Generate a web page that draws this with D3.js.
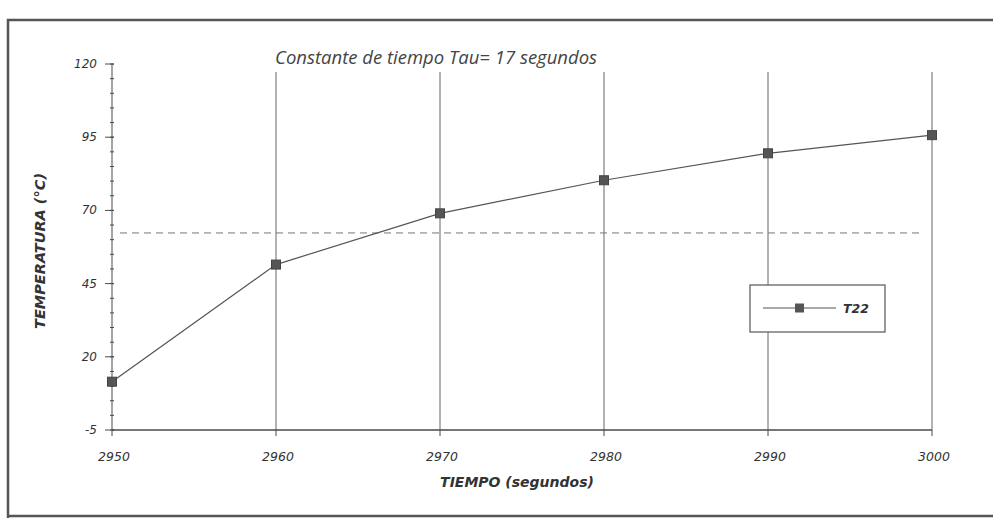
<!DOCTYPE html>
<html><head><meta charset="utf-8">
<script src="https://cdn.jsdelivr.net/npm/d3@7"></script>
<style>body{margin:0;background:#fff}svg{display:block}</style>
</head><body>
<svg id="c" width="993" height="518"></svg>
<script>
const times = [2950, 2960, 2970, 2980, 2990, 3000];
const temps = [11.5, 51.5, 69, 80.3, 89.5, 95.7];
const yTicks = [-5, 20, 45, 70, 95, 120];
const xTicks = [2950, 2960, 2970, 2980, 2990, 3000];
const refLevel = [62.3];
const seriesName = "T22";
const title = "Constante de tiempo Tau= 17 segundos";

const svg = d3.select("#c");
const x = d3.scaleLinear().domain([2950, 3000]).range([112, 932]);
const y = d3.scaleLinear().domain([-5, 120]).range([430, 64]);
const ink = "#4a4a4a";
const lab = "DejaVu Sans, Verdana, sans-serif";

// frame
svg.append("path").attr("d","M8,518 L8,20 L993,20").attr("fill","none").attr("stroke","#555").attr("stroke-width",2.5);
svg.append("line").attr("x1",8).attr("x2",993).attr("y1",516).attr("y2",516).attr("stroke","#555").attr("stroke-width",2.5);

// vertical gridlines
svg.append("g").selectAll("line").data(xTicks.slice(1)).join("line")
  .attr("x1",d=>x(d)).attr("x2",d=>x(d)).attr("y1",72).attr("y2",y(-5))
  .attr("stroke","#666").attr("stroke-width",1);

// reference dashed line
svg.append("line").attr("x1",x(2950)+8).attr("x2",x(2999.5)).attr("y1",y(refLevel[0])).attr("y2",y(refLevel[0]))
  .attr("stroke","#777").attr("stroke-width",1).attr("stroke-dasharray","7,5");

// y axis
const yMinor = d3.range(-5, 120.01, 5);
const gy = svg.append("g").attr("transform",`translate(${x(2950)},0)`);
gy.append("line").attr("y1",y(120)).attr("y2",y(-5)).attr("stroke",ink);
gy.selectAll(".mn").data(yMinor).join("line").attr("class","mn")
  .attr("x1",-2).attr("x2",2).attr("y1",d=>y(d)).attr("y2",d=>y(d)).attr("stroke",ink);
gy.selectAll(".mj").data(yTicks).join("line").attr("class","mj")
  .attr("x1",-7).attr("x2",2).attr("y1",d=>y(d)).attr("y2",d=>y(d)).attr("stroke",ink);
gy.selectAll("text").data(yTicks).join("text")
  .attr("x",-15).attr("y",d=>y(d)+4).attr("text-anchor","end")
  .attr("font-family",lab).attr("font-size",12).attr("font-style","italic")
  .attr("fill","#333").text(d=>d);

// x axis
const gx = svg.append("g");
gx.append("line").attr("x1",x(2950)).attr("x2",x(3000)).attr("y1",y(-5)).attr("y2",y(-5)).attr("stroke",ink).attr("stroke-width",1.3);
gx.selectAll(".tk").data(xTicks).join("line").attr("class","tk")
  .attr("x1",d=>x(d)).attr("x2",d=>x(d)).attr("y1",y(-5)).attr("y2",y(-5)+6).attr("stroke",ink);
gx.selectAll("text").data(xTicks).join("text")
  .attr("x",d=>x(d)+2).attr("y",461).attr("text-anchor","middle")
  .attr("font-family",lab).attr("font-size",12.5).attr("font-style","italic")
  .attr("fill","#333").text(d=>d);

// axis titles
svg.append("text").attr("x",517).attr("y",487).attr("text-anchor","middle")
  .attr("font-family",lab).attr("font-size",14).attr("font-style","italic").attr("font-weight","bold")
  .attr("fill","#333").text("TIEMPO (segundos)");
svg.append("text").attr("transform","translate(45,251) rotate(-90)").attr("text-anchor","middle")
  .attr("font-family",lab).attr("font-size",14.5).attr("font-style","italic").attr("font-weight","bold")
  .attr("fill","#333").text("TEMPERATURA (°C)");

// title
svg.append("text").attr("x",275).attr("y",64)
  .attr("font-family","Open Sans, Liberation Sans, sans-serif").attr("font-size",18.5).attr("font-style","italic")
  .attr("fill","#444").text(title);

// series
const pts = times.map((t,i)=>[t,temps[i]]);
svg.append("path").datum(pts).attr("fill","none").attr("stroke","#555").attr("stroke-width",1.2)
  .attr("d",d3.line().x(d=>x(d[0])).y(d=>y(d[1])));
svg.append("g").selectAll("rect").data(pts).join("rect")
  .attr("x",d=>x(d[0])-4.5).attr("y",d=>y(d[1])-4.5).attr("width",9).attr("height",9)
  .attr("fill","#555").attr("stroke","#444");

// legend
const lg = svg.append("g");
lg.append("rect").attr("x",750).attr("y",285).attr("width",135).attr("height",47).attr("fill","#fff").attr("stroke","#555").attr("stroke-width",1.2);
lg.append("line").attr("x1",763).attr("x2",836).attr("y1",308).attr("y2",308).attr("stroke","#555").attr("stroke-width",1.2);
lg.append("rect").attr("x",795).attr("y",303.5).attr("width",9).attr("height",9).attr("fill","#555");
lg.append("text").attr("x",843).attr("y",313)
  .attr("font-family",lab).attr("font-size",12.5).attr("font-style","italic").attr("font-weight","bold")
  .attr("fill","#333").text(seriesName);
</script>
</body></html>
